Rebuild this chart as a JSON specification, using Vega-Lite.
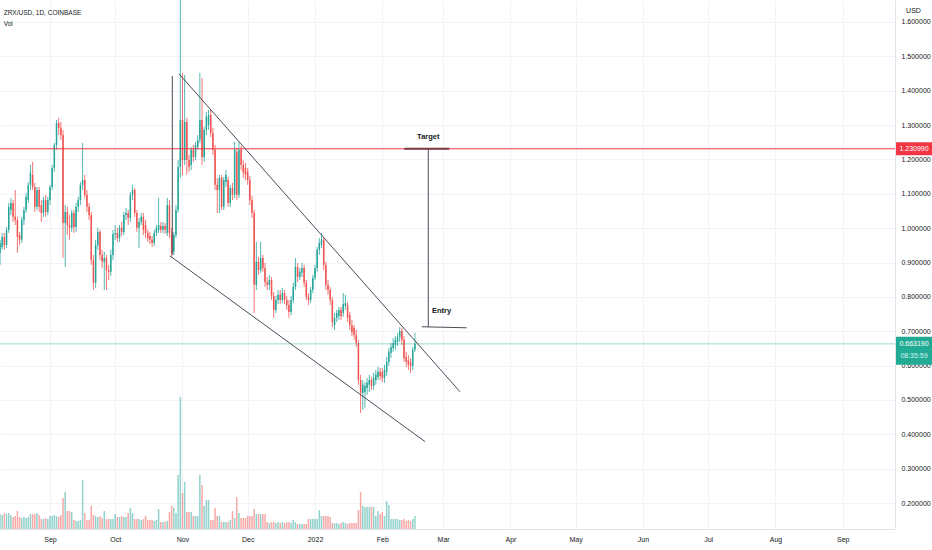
{
  "$schema": "https://vega.github.io/schema/vega-lite/v6.json",
  "width": 895,
  "height": 529,
  "autosize": "none",
  "padding": {"left": 0, "top": 0, "right": 37, "bottom": 21},
  "background": "white",
  "config": {
    "view": {"stroke": null},
    "font": "Liberation Sans",
    "axis": {
      "labelFont": "Liberation Sans Narrow, Liberation Sans",
      "labelFontSize": 7,
      "labelColor": "#131722",
      "gridColor": "#f0f3fa",
      "domainColor": "#e0e3eb",
      "ticks": false,
      "labelOverlap": false
    }
  },
  "datasets": {
    "candles": [
      {"date": "2021-08-09", "open": 0.928, "high": 0.966, "low": 0.893, "close": 0.957, "volume": 7.5},
      {"date": "2021-08-10", "open": 0.945, "high": 0.986, "low": 0.937, "close": 0.974, "volume": 7},
      {"date": "2021-08-11", "open": 0.974, "high": 0.986, "low": 0.937, "close": 0.951, "volume": 8},
      {"date": "2021-08-12", "open": 0.951, "high": 1.003, "low": 0.942, "close": 0.995, "volume": 7.5},
      {"date": "2021-08-13", "open": 0.995, "high": 1.073, "low": 0.986, "close": 1.062, "volume": 8},
      {"date": "2021-08-14", "open": 1.053, "high": 1.088, "low": 1.038, "close": 1.073, "volume": 7},
      {"date": "2021-08-15", "open": 1.073, "high": 1.082, "low": 1.018, "close": 1.033, "volume": 6},
      {"date": "2021-08-16", "open": 1.033, "high": 1.111, "low": 1.009, "close": 1.024, "volume": 6.5},
      {"date": "2021-08-17", "open": 1.024, "high": 1.033, "low": 0.928, "close": 0.974, "volume": 9},
      {"date": "2021-08-18", "open": 0.98, "high": 0.989, "low": 0.951, "close": 0.966, "volume": 6},
      {"date": "2021-08-19", "open": 0.966, "high": 1.033, "low": 0.957, "close": 1.024, "volume": 5.5},
      {"date": "2021-08-20", "open": 1.024, "high": 1.062, "low": 1.009, "close": 1.053, "volume": 6},
      {"date": "2021-08-21", "open": 1.053, "high": 1.102, "low": 1.044, "close": 1.091, "volume": 5.5},
      {"date": "2021-08-22", "open": 1.082, "high": 1.134, "low": 1.073, "close": 1.126, "volume": 6},
      {"date": "2021-08-23", "open": 1.126, "high": 1.184, "low": 1.111, "close": 1.161, "volume": 7.5},
      {"date": "2021-08-24", "open": 1.155, "high": 1.193, "low": 1.111, "close": 1.12, "volume": 7.5},
      {"date": "2021-08-25", "open": 1.12, "high": 1.132, "low": 1.047, "close": 1.062, "volume": 7.5},
      {"date": "2021-08-26", "open": 1.062, "high": 1.12, "low": 1.053, "close": 1.111, "volume": 8},
      {"date": "2021-08-27", "open": 1.111, "high": 1.12, "low": 1.047, "close": 1.062, "volume": 7},
      {"date": "2021-08-28", "open": 1.067, "high": 1.082, "low": 1.018, "close": 1.044, "volume": 5},
      {"date": "2021-08-29", "open": 1.044, "high": 1.091, "low": 1.033, "close": 1.082, "volume": 5},
      {"date": "2021-08-30", "open": 1.082, "high": 1.097, "low": 1.033, "close": 1.047, "volume": 5.5},
      {"date": "2021-08-31", "open": 1.047, "high": 1.091, "low": 1.038, "close": 1.082, "volume": 5},
      {"date": "2021-09-01", "open": 1.082, "high": 1.126, "low": 1.067, "close": 1.12, "volume": 6.5},
      {"date": "2021-09-02", "open": 1.12, "high": 1.184, "low": 1.111, "close": 1.175, "volume": 6.5},
      {"date": "2021-09-03", "open": 1.175, "high": 1.248, "low": 1.164, "close": 1.242, "volume": 7},
      {"date": "2021-09-04", "open": 1.242, "high": 1.315, "low": 1.228, "close": 1.306, "volume": 6.5},
      {"date": "2021-09-05", "open": 1.306, "high": 1.321, "low": 1.271, "close": 1.292, "volume": 6},
      {"date": "2021-09-06", "open": 1.292, "high": 1.309, "low": 1.257, "close": 1.271, "volume": 7},
      {"date": "2021-09-07", "open": 1.271, "high": 1.286, "low": 0.913, "close": 1.015, "volume": 15.5},
      {"date": "2021-09-08", "open": 1.015, "high": 1.067, "low": 0.887, "close": 1.047, "volume": 18.5},
      {"date": "2021-09-09", "open": 1.047, "high": 1.062, "low": 0.98, "close": 1.009, "volume": 9},
      {"date": "2021-09-10", "open": 1.009, "high": 1.038, "low": 0.966, "close": 1.001, "volume": 9},
      {"date": "2021-09-11", "open": 1.001, "high": 1.053, "low": 0.989, "close": 1.044, "volume": 8.5},
      {"date": "2021-09-12", "open": 1.044, "high": 1.053, "low": 0.986, "close": 1.003, "volume": 4.5},
      {"date": "2021-09-13", "open": 1.003, "high": 1.073, "low": 0.989, "close": 1.062, "volume": 4},
      {"date": "2021-09-14", "open": 1.062, "high": 1.091, "low": 1.047, "close": 1.082, "volume": 4},
      {"date": "2021-09-15", "open": 1.082, "high": 1.134, "low": 1.067, "close": 1.126, "volume": 4.5},
      {"date": "2021-09-16", "open": 1.126, "high": 1.248, "low": 1.111, "close": 1.14, "volume": 24.5},
      {"date": "2021-09-17", "open": 1.14, "high": 1.155, "low": 1.088, "close": 1.097, "volume": 8},
      {"date": "2021-09-18", "open": 1.097, "high": 1.111, "low": 1.047, "close": 1.062, "volume": 4.5},
      {"date": "2021-09-19", "open": 1.062, "high": 1.073, "low": 1.024, "close": 1.038, "volume": 4.5},
      {"date": "2021-09-20", "open": 1.038, "high": 1.047, "low": 0.893, "close": 0.907, "volume": 11.5},
      {"date": "2021-09-21", "open": 0.907, "high": 0.922, "low": 0.82, "close": 0.841, "volume": 7},
      {"date": "2021-09-22", "open": 0.841, "high": 0.966, "low": 0.826, "close": 0.951, "volume": 6.5},
      {"date": "2021-09-23", "open": 0.951, "high": 1.001, "low": 0.937, "close": 0.989, "volume": 6},
      {"date": "2021-09-24", "open": 0.989, "high": 0.995, "low": 0.907, "close": 0.922, "volume": 6.5},
      {"date": "2021-09-25", "open": 0.922, "high": 0.937, "low": 0.884, "close": 0.902, "volume": 5.5},
      {"date": "2021-09-26", "open": 0.902, "high": 0.931, "low": 0.82, "close": 0.913, "volume": 9},
      {"date": "2021-09-27", "open": 0.913, "high": 0.922, "low": 0.82, "close": 0.878, "volume": 5},
      {"date": "2021-09-28", "open": 0.878, "high": 0.893, "low": 0.849, "close": 0.873, "volume": 5},
      {"date": "2021-09-29", "open": 0.873, "high": 0.937, "low": 0.861, "close": 0.922, "volume": 5},
      {"date": "2021-09-30", "open": 0.922, "high": 0.995, "low": 0.907, "close": 0.983, "volume": 5},
      {"date": "2021-10-01", "open": 0.983, "high": 1.009, "low": 0.966, "close": 0.986, "volume": 7.5},
      {"date": "2021-10-02", "open": 0.986, "high": 1.001, "low": 0.96, "close": 0.971, "volume": 6},
      {"date": "2021-10-03", "open": 0.971, "high": 1.009, "low": 0.96, "close": 1.001, "volume": 6},
      {"date": "2021-10-04", "open": 1.001, "high": 1.018, "low": 0.977, "close": 0.989, "volume": 6.5},
      {"date": "2021-10-05", "open": 0.989, "high": 1.047, "low": 0.98, "close": 1.038, "volume": 6},
      {"date": "2021-10-06", "open": 1.038, "high": 1.059, "low": 1.024, "close": 1.044, "volume": 6},
      {"date": "2021-10-07", "open": 1.044, "high": 1.053, "low": 1.009, "close": 1.03, "volume": 8},
      {"date": "2021-10-08", "open": 1.03, "high": 1.105, "low": 1.018, "close": 1.097, "volume": 10.5},
      {"date": "2021-10-09", "open": 1.097, "high": 1.126, "low": 1.082, "close": 1.111, "volume": 8},
      {"date": "2021-10-10", "open": 1.111, "high": 1.117, "low": 1.033, "close": 1.044, "volume": 5},
      {"date": "2021-10-11", "open": 1.044, "high": 1.053, "low": 0.989, "close": 1.001, "volume": 5},
      {"date": "2021-10-12", "open": 1.001, "high": 1.03, "low": 0.942, "close": 1.018, "volume": 5},
      {"date": "2021-10-13", "open": 1.018, "high": 1.044, "low": 1.009, "close": 1.033, "volume": 4.5},
      {"date": "2021-10-14", "open": 1.033, "high": 1.044, "low": 0.98, "close": 0.995, "volume": 5},
      {"date": "2021-10-15", "open": 1.009, "high": 1.024, "low": 0.971, "close": 0.986, "volume": 6.5},
      {"date": "2021-10-16", "open": 0.986, "high": 0.995, "low": 0.96, "close": 0.971, "volume": 4.5},
      {"date": "2021-10-17", "open": 0.977, "high": 0.989, "low": 0.954, "close": 0.966, "volume": 4.5},
      {"date": "2021-10-18", "open": 0.966, "high": 0.977, "low": 0.945, "close": 0.957, "volume": 4.5},
      {"date": "2021-10-19", "open": 0.957, "high": 0.995, "low": 0.948, "close": 0.986, "volume": 4},
      {"date": "2021-10-20", "open": 0.986, "high": 1.009, "low": 0.977, "close": 1.001, "volume": 4.5},
      {"date": "2021-10-21", "open": 0.995, "high": 1.088, "low": 0.986, "close": 1.009, "volume": 10},
      {"date": "2021-10-22", "open": 1.006, "high": 1.018, "low": 0.986, "close": 0.995, "volume": 3.5},
      {"date": "2021-10-23", "open": 0.995, "high": 1.018, "low": 0.986, "close": 1.006, "volume": 3.5},
      {"date": "2021-10-24", "open": 1.006, "high": 1.015, "low": 0.983, "close": 0.995, "volume": 3.5},
      {"date": "2021-10-25", "open": 0.986, "high": 1.088, "low": 0.977, "close": 1.067, "volume": 4},
      {"date": "2021-10-26", "open": 1.067, "high": 1.082, "low": 0.971, "close": 0.986, "volume": 8.5},
      {"date": "2021-10-27", "open": 0.986, "high": 1.001, "low": 0.916, "close": 0.928, "volume": 11.5},
      {"date": "2021-10-28", "open": 0.931, "high": 0.989, "low": 0.922, "close": 0.98, "volume": 10.5},
      {"date": "2021-10-29", "open": 0.98, "high": 1.067, "low": 0.971, "close": 1.053, "volume": 8},
      {"date": "2021-10-30", "open": 1.053, "high": 1.198, "low": 1.044, "close": 1.178, "volume": 27},
      {"date": "2021-10-31", "open": 1.178, "high": 1.75, "low": 1.146, "close": 1.315, "volume": 66},
      {"date": "2021-11-01", "open": 1.315, "high": 1.452, "low": 1.155, "close": 1.198, "volume": 18},
      {"date": "2021-11-02", "open": 1.198, "high": 1.446, "low": 1.184, "close": 1.309, "volume": 23.5},
      {"date": "2021-11-03", "open": 1.309, "high": 1.321, "low": 1.155, "close": 1.198, "volume": 8.5},
      {"date": "2021-11-04", "open": 1.198, "high": 1.213, "low": 1.164, "close": 1.178, "volume": 8.5},
      {"date": "2021-11-05", "open": 1.184, "high": 1.236, "low": 1.169, "close": 1.228, "volume": 8.5},
      {"date": "2021-11-06", "open": 1.228, "high": 1.242, "low": 1.193, "close": 1.207, "volume": 6.5},
      {"date": "2021-11-07", "open": 1.207, "high": 1.251, "low": 1.198, "close": 1.242, "volume": 6.5},
      {"date": "2021-11-08", "open": 1.236, "high": 1.271, "low": 1.228, "close": 1.257, "volume": 6.5},
      {"date": "2021-11-09", "open": 1.257, "high": 1.452, "low": 1.248, "close": 1.315, "volume": 27},
      {"date": "2021-11-10", "open": 1.315, "high": 1.437, "low": 1.184, "close": 1.207, "volume": 22},
      {"date": "2021-11-11", "open": 1.207, "high": 1.294, "low": 1.193, "close": 1.286, "volume": 11.5},
      {"date": "2021-11-12", "open": 1.286, "high": 1.338, "low": 1.271, "close": 1.324, "volume": 14.5},
      {"date": "2021-11-13", "open": 1.3, "high": 1.344, "low": 1.286, "close": 1.329, "volume": 14.5},
      {"date": "2021-11-14", "open": 1.329, "high": 1.344, "low": 1.265, "close": 1.277, "volume": 4.5},
      {"date": "2021-11-15", "open": 1.277, "high": 1.292, "low": 1.213, "close": 1.228, "volume": 4.5},
      {"date": "2021-11-16", "open": 1.228, "high": 1.242, "low": 1.111, "close": 1.126, "volume": 10.5},
      {"date": "2021-11-17", "open": 1.126, "high": 1.146, "low": 1.044, "close": 1.111, "volume": 6.5},
      {"date": "2021-11-18", "open": 1.111, "high": 1.155, "low": 1.044, "close": 1.146, "volume": 6.5},
      {"date": "2021-11-19", "open": 1.146, "high": 1.155, "low": 1.053, "close": 1.062, "volume": 3.5},
      {"date": "2021-11-20", "open": 1.062, "high": 1.149, "low": 1.053, "close": 1.14, "volume": 3.5},
      {"date": "2021-11-21", "open": 1.134, "high": 1.169, "low": 1.12, "close": 1.155, "volume": 3.5},
      {"date": "2021-11-22", "open": 1.14, "high": 1.149, "low": 1.062, "close": 1.073, "volume": 3.5},
      {"date": "2021-11-23", "open": 1.073, "high": 1.126, "low": 1.062, "close": 1.117, "volume": 4.5},
      {"date": "2021-11-24", "open": 1.117, "high": 1.132, "low": 1.082, "close": 1.097, "volume": 9},
      {"date": "2021-11-25", "open": 1.097, "high": 1.251, "low": 1.088, "close": 1.228, "volume": 5.5},
      {"date": "2021-11-26", "open": 1.222, "high": 1.233, "low": 1.082, "close": 1.097, "volume": 16},
      {"date": "2021-11-27", "open": 1.097, "high": 1.251, "low": 1.088, "close": 1.228, "volume": 8},
      {"date": "2021-11-28", "open": 1.228, "high": 1.239, "low": 1.169, "close": 1.184, "volume": 5.5},
      {"date": "2021-11-29", "open": 1.184, "high": 1.198, "low": 1.146, "close": 1.161, "volume": 5.5},
      {"date": "2021-11-30", "open": 1.175, "high": 1.19, "low": 1.14, "close": 1.155, "volume": 5.5},
      {"date": "2021-12-01", "open": 1.164, "high": 1.175, "low": 1.126, "close": 1.14, "volume": 6.5},
      {"date": "2021-12-02", "open": 1.14, "high": 1.152, "low": 1.067, "close": 1.082, "volume": 6.5},
      {"date": "2021-12-03", "open": 1.082, "high": 1.094, "low": 1.03, "close": 1.044, "volume": 6.5},
      {"date": "2021-12-04", "open": 1.044, "high": 1.053, "low": 0.753, "close": 0.835, "volume": 10},
      {"date": "2021-12-05", "open": 0.835, "high": 0.96, "low": 0.82, "close": 0.902, "volume": 7.5},
      {"date": "2021-12-06", "open": 0.902, "high": 0.916, "low": 0.864, "close": 0.878, "volume": 7.5},
      {"date": "2021-12-07", "open": 0.878, "high": 0.96, "low": 0.87, "close": 0.913, "volume": 7.5},
      {"date": "2021-12-08", "open": 0.913, "high": 0.922, "low": 0.873, "close": 0.884, "volume": 7.5},
      {"date": "2021-12-09", "open": 0.884, "high": 0.899, "low": 0.829, "close": 0.843, "volume": 7.5},
      {"date": "2021-12-10", "open": 0.843, "high": 0.858, "low": 0.82, "close": 0.835, "volume": 3.5},
      {"date": "2021-12-11", "open": 0.835, "high": 0.864, "low": 0.82, "close": 0.849, "volume": 3},
      {"date": "2021-12-12", "open": 0.849, "high": 0.858, "low": 0.791, "close": 0.803, "volume": 3.5},
      {"date": "2021-12-13", "open": 0.803, "high": 0.814, "low": 0.739, "close": 0.762, "volume": 3.5},
      {"date": "2021-12-14", "open": 0.762, "high": 0.803, "low": 0.753, "close": 0.791, "volume": 3},
      {"date": "2021-12-15", "open": 0.791, "high": 0.82, "low": 0.779, "close": 0.806, "volume": 3.5},
      {"date": "2021-12-16", "open": 0.806, "high": 0.82, "low": 0.779, "close": 0.791, "volume": 3},
      {"date": "2021-12-17", "open": 0.791, "high": 0.826, "low": 0.782, "close": 0.811, "volume": 3.5},
      {"date": "2021-12-18", "open": 0.811, "high": 0.82, "low": 0.779, "close": 0.791, "volume": 3},
      {"date": "2021-12-19", "open": 0.791, "high": 0.803, "low": 0.762, "close": 0.776, "volume": 3.5},
      {"date": "2021-12-20", "open": 0.776, "high": 0.791, "low": 0.739, "close": 0.756, "volume": 3.5},
      {"date": "2021-12-21", "open": 0.756, "high": 0.803, "low": 0.747, "close": 0.791, "volume": 3},
      {"date": "2021-12-22", "open": 0.791, "high": 0.841, "low": 0.782, "close": 0.829, "volume": 4.5},
      {"date": "2021-12-23", "open": 0.829, "high": 0.913, "low": 0.82, "close": 0.887, "volume": 3.5},
      {"date": "2021-12-24", "open": 0.887, "high": 0.899, "low": 0.843, "close": 0.858, "volume": 2.5},
      {"date": "2021-12-25", "open": 0.858, "high": 0.884, "low": 0.849, "close": 0.873, "volume": 2.5},
      {"date": "2021-12-26", "open": 0.87, "high": 0.899, "low": 0.858, "close": 0.884, "volume": 2.5},
      {"date": "2021-12-27", "open": 0.884, "high": 0.893, "low": 0.829, "close": 0.841, "volume": 2.5},
      {"date": "2021-12-28", "open": 0.841, "high": 0.849, "low": 0.791, "close": 0.8, "volume": 2.5},
      {"date": "2021-12-29", "open": 0.8, "high": 0.811, "low": 0.776, "close": 0.791, "volume": 5},
      {"date": "2021-12-30", "open": 0.791, "high": 0.829, "low": 0.782, "close": 0.82, "volume": 5},
      {"date": "2021-12-31", "open": 0.82, "high": 0.864, "low": 0.811, "close": 0.855, "volume": 5},
      {"date": "2022-01-01", "open": 0.855, "high": 0.893, "low": 0.849, "close": 0.884, "volume": 5},
      {"date": "2022-01-02", "open": 0.884, "high": 0.945, "low": 0.873, "close": 0.937, "volume": 5},
      {"date": "2022-01-03", "open": 0.937, "high": 0.971, "low": 0.922, "close": 0.957, "volume": 9.5},
      {"date": "2022-01-04", "open": 0.951, "high": 0.986, "low": 0.942, "close": 0.966, "volume": 6.5},
      {"date": "2022-01-05", "open": 0.966, "high": 0.974, "low": 0.878, "close": 0.893, "volume": 6.5},
      {"date": "2022-01-06", "open": 0.893, "high": 0.902, "low": 0.82, "close": 0.835, "volume": 6.5},
      {"date": "2022-01-07", "open": 0.835, "high": 0.849, "low": 0.806, "close": 0.82, "volume": 6.5},
      {"date": "2022-01-08", "open": 0.82, "high": 0.829, "low": 0.776, "close": 0.791, "volume": 6},
      {"date": "2022-01-09", "open": 0.791, "high": 0.8, "low": 0.712, "close": 0.727, "volume": 3},
      {"date": "2022-01-10", "open": 0.718, "high": 0.753, "low": 0.704, "close": 0.739, "volume": 3},
      {"date": "2022-01-11", "open": 0.739, "high": 0.762, "low": 0.727, "close": 0.753, "volume": 3},
      {"date": "2022-01-12", "open": 0.744, "high": 0.771, "low": 0.733, "close": 0.762, "volume": 2.5},
      {"date": "2022-01-13", "open": 0.762, "high": 0.771, "low": 0.733, "close": 0.744, "volume": 3},
      {"date": "2022-01-14", "open": 0.753, "high": 0.811, "low": 0.742, "close": 0.779, "volume": 3.5},
      {"date": "2022-01-15", "open": 0.774, "high": 0.806, "low": 0.762, "close": 0.782, "volume": 3},
      {"date": "2022-01-16", "open": 0.776, "high": 0.785, "low": 0.727, "close": 0.739, "volume": 2.5},
      {"date": "2022-01-17", "open": 0.747, "high": 0.756, "low": 0.704, "close": 0.718, "volume": 3},
      {"date": "2022-01-18", "open": 0.718, "high": 0.733, "low": 0.686, "close": 0.698, "volume": 3},
      {"date": "2022-01-19", "open": 0.71, "high": 0.718, "low": 0.675, "close": 0.689, "volume": 3},
      {"date": "2022-01-20", "open": 0.689, "high": 0.704, "low": 0.654, "close": 0.666, "volume": 3},
      {"date": "2022-01-21", "open": 0.666, "high": 0.675, "low": 0.544, "close": 0.558, "volume": 9.5},
      {"date": "2022-01-22", "open": 0.558, "high": 0.573, "low": 0.462, "close": 0.52, "volume": 18.5},
      {"date": "2022-01-23", "open": 0.52, "high": 0.558, "low": 0.471, "close": 0.544, "volume": 11.5},
      {"date": "2022-01-24", "open": 0.523, "high": 0.552, "low": 0.477, "close": 0.541, "volume": 11},
      {"date": "2022-01-25", "open": 0.535, "high": 0.564, "low": 0.515, "close": 0.55, "volume": 11},
      {"date": "2022-01-26", "open": 0.544, "high": 0.573, "low": 0.523, "close": 0.558, "volume": 11},
      {"date": "2022-01-27", "open": 0.558, "high": 0.567, "low": 0.529, "close": 0.541, "volume": 11},
      {"date": "2022-01-28", "open": 0.541, "high": 0.579, "low": 0.529, "close": 0.564, "volume": 11},
      {"date": "2022-01-29", "open": 0.558, "high": 0.587, "low": 0.544, "close": 0.573, "volume": 6.5},
      {"date": "2022-01-30", "open": 0.567, "high": 0.596, "low": 0.558, "close": 0.582, "volume": 9},
      {"date": "2022-01-31", "open": 0.582, "high": 0.593, "low": 0.558, "close": 0.57, "volume": 7.5},
      {"date": "2022-02-01", "open": 0.582, "high": 0.593, "low": 0.552, "close": 0.564, "volume": 8.5},
      {"date": "2022-02-02", "open": 0.564, "high": 0.602, "low": 0.55, "close": 0.587, "volume": 6.5},
      {"date": "2022-02-03", "open": 0.582, "high": 0.625, "low": 0.57, "close": 0.611, "volume": 14},
      {"date": "2022-02-04", "open": 0.611, "high": 0.651, "low": 0.599, "close": 0.64, "volume": 12},
      {"date": "2022-02-05", "open": 0.637, "high": 0.666, "low": 0.622, "close": 0.654, "volume": 5},
      {"date": "2022-02-06", "open": 0.651, "high": 0.68, "low": 0.64, "close": 0.666, "volume": 5},
      {"date": "2022-02-07", "open": 0.66, "high": 0.686, "low": 0.646, "close": 0.675, "volume": 5},
      {"date": "2022-02-08", "open": 0.669, "high": 0.695, "low": 0.657, "close": 0.683, "volume": 5},
      {"date": "2022-02-09", "open": 0.683, "high": 0.712, "low": 0.669, "close": 0.701, "volume": 4.5},
      {"date": "2022-02-10", "open": 0.701, "high": 0.71, "low": 0.66, "close": 0.675, "volume": 4.5},
      {"date": "2022-02-11", "open": 0.675, "high": 0.686, "low": 0.611, "close": 0.622, "volume": 5},
      {"date": "2022-02-12", "open": 0.625, "high": 0.64, "low": 0.596, "close": 0.611, "volume": 4},
      {"date": "2022-02-13", "open": 0.616, "high": 0.631, "low": 0.587, "close": 0.602, "volume": 4.5},
      {"date": "2022-02-14", "open": 0.611, "high": 0.622, "low": 0.579, "close": 0.599, "volume": 4},
      {"date": "2022-02-15", "open": 0.599, "high": 0.654, "low": 0.587, "close": 0.646, "volume": 5},
      {"date": "2022-02-16", "open": 0.646, "high": 0.695, "low": 0.64, "close": 0.66319, "volume": 6.5}
    ],
    "drawings": [
      {"start": "2021-10-30T10:00:00Z", "startPrice": 1.449, "end": "2022-03-08T18:00:00Z", "endPrice": 0.524},
      {"start": "2021-10-26T06:00:00Z", "startPrice": 0.919, "end": "2022-02-20T15:00:00Z", "endPrice": 0.379},
      {"start": "2021-10-27T07:30:00Z", "startPrice": 1.443, "end": "2021-10-27T07:30:00Z", "endPrice": 0.922},
      {"start": "2022-02-22T04:00:00Z", "startPrice": 1.231, "end": "2022-02-22T04:00:00Z", "endPrice": 0.712},
      {"start": "2022-02-19T03:00:00Z", "startPrice": 0.713, "end": "2022-03-11T20:00:00Z", "endPrice": 0.71}
    ],
    "tags": [
      {"at": "2022-10-03T19:00:00Z", "price": 1.23099, "label": "1.230990", "timer": "", "kind": "target"},
      {"at": "2022-10-03T19:00:00Z", "price": 0.66319, "label": "0.663190", "timer": "08:35:59", "kind": "last"}
    ]
  },
  "data": {"name": "candles"},
  "layer": [
    {
      "mark": {"type": "bar", "size": 1.5, "opacity": 0.5},
      "encoding": {
        "x": {
          "field": "date",
          "type": "temporal",
          "title": null,
          "scale": {
            "type": "utc",
            "padding": 0,
            "domain": [
              {"year": 2021, "month": 8, "date": 8, "hours": 23, "minutes": 30, "utc": true},
              {"year": 2022, "month": 9, "date": 25, "hours": 1, "utc": true}
            ]
          },
          "axis": {
            "values": [
              {"year": 2021, "month": 9, "date": 1, "utc": true},
              {"year": 2021, "month": 10, "date": 1, "utc": true},
              {"year": 2021, "month": 11, "date": 1, "utc": true},
              {"year": 2021, "month": 12, "date": 1, "utc": true},
              {"year": 2022, "month": 1, "date": 1, "utc": true},
              {"year": 2022, "month": 2, "date": 1, "utc": true},
              {"year": 2022, "month": 3, "date": 1, "utc": true},
              {"year": 2022, "month": 4, "date": 1, "utc": true},
              {"year": 2022, "month": 5, "date": 1, "utc": true},
              {"year": 2022, "month": 6, "date": 1, "utc": true},
              {"year": 2022, "month": 7, "date": 1, "utc": true},
              {"year": 2022, "month": 8, "date": 1, "utc": true},
              {"year": 2022, "month": 9, "date": 1, "utc": true}
            ],
            "labelExpr": "utcmonth(datum.value) == 0 ? utcFormat(datum.value, '%Y') : utcFormat(datum.value, '%b')",
            "labelPadding": 6,
            "grid": true,
            "domain": true
          }
        },
        "y": {
          "field": "volume",
          "type": "quantitative",
          "scale": {"domain": [0, 264.5], "nice": false},
          "axis": null
        },
        "color": {
          "condition": {"test": "datum.close >= datum.open", "value": "#26a69a"},
          "value": "#ef5350"
        }
      }
    },
    {
      "mark": {"type": "bar", "size": 1.5},
      "encoding": {
        "x": {"field": "date", "type": "temporal"},
        "y": {
          "field": "open",
          "type": "quantitative",
          "scale": {"domain": [0.1244, 1.664], "nice": false, "zero": false},
          "axis": {
            "orient": "right",
            "values": [0.2, 0.3, 0.4, 0.5, 0.6, 0.7, 0.8, 0.9, 1.0, 1.1, 1.2, 1.3, 1.4, 1.5, 1.6],
            "format": ".6f",
            "labelPadding": 6,
            "labelOverlap": false,
            "grid": true,
            "domain": true,
            "title": "USD",
            "titleAngle": 0,
            "titleX": 18,
            "titleY": 10,
            "titleFont": "Liberation Sans Narrow, Liberation Sans",
            "titleFontSize": 7,
            "titleFontWeight": "normal",
            "titleColor": "#131722",
            "titleAlign": "center",
            "titleBaseline": "middle"
          }
        },
        "y2": {"field": "close"},
        "color": {
          "condition": {"test": "datum.close >= datum.open", "value": "#26a69a"},
          "value": "#ef5350"
        }
      }
    },
    {
      "mark": {"type": "rule", "strokeWidth": 0.8, "clip": true},
      "encoding": {
        "x": {"field": "date", "type": "temporal"},
        "y": {"field": "low", "type": "quantitative", "scale": {"domain": [0.1244, 1.664], "nice": false, "zero": false}, "axis": null},
        "y2": {"field": "high"},
        "color": {
          "condition": {"test": "datum.close >= datum.open", "value": "#26a69a"},
          "value": "#ef5350"
        }
      }
    },
    {
      "data": {"values": [{"price": 0.66319}]},
      "mark": {"type": "rule", "color": "#26a69a", "opacity": 0.45, "strokeWidth": 1},
      "encoding": {
        "y": {"field": "price", "type": "quantitative", "scale": {"domain": [0.1244, 1.664], "nice": false, "zero": false}, "axis": null}
      }
    },
    {
      "data": {"values": [{"price": 1.23099}]},
      "mark": {"type": "rule", "color": "#f23645", "strokeWidth": 1},
      "encoding": {
        "y": {"field": "price", "type": "quantitative", "scale": {"domain": [0.1244, 1.664], "nice": false, "zero": false}, "axis": null}
      }
    },
    {
      "data": {"name": "drawings"},
      "mark": {"type": "rule", "color": "#4a4d57", "strokeWidth": 1},
      "encoding": {
        "x": {"field": "start", "type": "temporal"},
        "x2": {"field": "end"},
        "y": {"field": "startPrice", "type": "quantitative", "scale": {"domain": [0.1244, 1.664], "nice": false, "zero": false}, "axis": null},
        "y2": {"field": "endPrice"}
      }
    },
    {
      "data": {"values": [{"start": "2022-02-11T03:00:00Z", "end": "2022-03-03T20:00:00Z", "price": 1.231}]},
      "mark": {"type": "rule", "color": "#7d3b45", "strokeWidth": 2},
      "encoding": {
        "x": {"field": "start", "type": "temporal"},
        "x2": {"field": "end"},
        "y": {"field": "price", "type": "quantitative", "scale": {"domain": [0.1244, 1.664], "nice": false, "zero": false}, "axis": null}
      }
    },
    {
      "data": {"values": [
        {"date": "2022-02-22T04:00:00Z", "price": 1.265, "label": "Target"},
        {"date": "2022-02-28T07:00:00Z", "price": 0.76, "label": "Entry"}
      ]},
      "mark": {"type": "text", "fontSize": 7.5, "fontWeight": "bold", "color": "#131722", "align": "center", "baseline": "middle"},
      "encoding": {
        "x": {"field": "date", "type": "temporal"},
        "y": {"field": "price", "type": "quantitative", "scale": {"domain": [0.1244, 1.664], "nice": false, "zero": false}, "axis": null},
        "text": {"field": "label"}
      }
    },
    {
      "data": {"values": [
        {"date": "2021-08-10T16:00:00Z", "price": 1.627, "label": "ZRX/USD, 1D, COINBASE", "weight": "bold"},
        {"date": "2021-08-10T16:00:00Z", "price": 1.593, "label": "Vol", "weight": "normal"}
      ]},
      "mark": {"type": "text", "fontSize": 6.5, "color": "#131722", "align": "left", "baseline": "middle"},
      "encoding": {
        "x": {"field": "date", "type": "temporal"},
        "y": {"field": "price", "type": "quantitative", "scale": {"domain": [0.1244, 1.664], "nice": false, "zero": false}, "axis": null},
        "text": {"field": "label"},
        "fontWeight": {"field": "weight", "type": "nominal", "scale": null, "legend": null}
      }
    },
    {
      "data": {"name": "tags"},
      "transform": [{"filter": "datum.kind == 'target'"}],
      "mark": {"type": "tick", "orient": "horizontal", "size": 36, "thickness": 13, "color": "#f23645", "opacity": 1, "clip": false},
      "encoding": {
        "x": {"field": "at", "type": "temporal"},
        "y": {"field": "price", "type": "quantitative", "scale": {"domain": [0.1244, 1.664], "nice": false, "zero": false}, "axis": null}
      }
    },
    {
      "data": {"name": "tags"},
      "transform": [{"filter": "datum.kind == 'last'"}],
      "mark": {"type": "tick", "orient": "horizontal", "size": 36, "thickness": 28, "color": "#22ab94", "opacity": 1, "clip": false, "yOffset": 7},
      "encoding": {
        "x": {"field": "at", "type": "temporal"},
        "y": {"field": "price", "type": "quantitative", "scale": {"domain": [0.1244, 1.664], "nice": false, "zero": false}, "axis": null}
      }
    },
    {
      "data": {"name": "tags"},
      "mark": {"type": "text", "font": "Liberation Sans Narrow, Liberation Sans", "fontSize": 7, "color": "white", "align": "center", "baseline": "middle", "clip": false},
      "encoding": {
        "x": {"field": "at", "type": "temporal"},
        "y": {"field": "price", "type": "quantitative", "scale": {"domain": [0.1244, 1.664], "nice": false, "zero": false}, "axis": null},
        "text": {"field": "label"}
      }
    },
    {
      "data": {"name": "tags"},
      "mark": {"type": "text", "font": "Liberation Sans Narrow, Liberation Sans", "fontSize": 7, "color": "#d5f2ee", "align": "center", "baseline": "middle", "clip": false, "dy": 12},
      "encoding": {
        "x": {"field": "at", "type": "temporal"},
        "y": {"field": "price", "type": "quantitative", "scale": {"domain": [0.1244, 1.664], "nice": false, "zero": false}, "axis": null},
        "text": {"field": "timer"}
      }
    }
  ],
  "resolve": {"scale": {"y": "independent"}, "axis": {"y": "independent"}}
}
